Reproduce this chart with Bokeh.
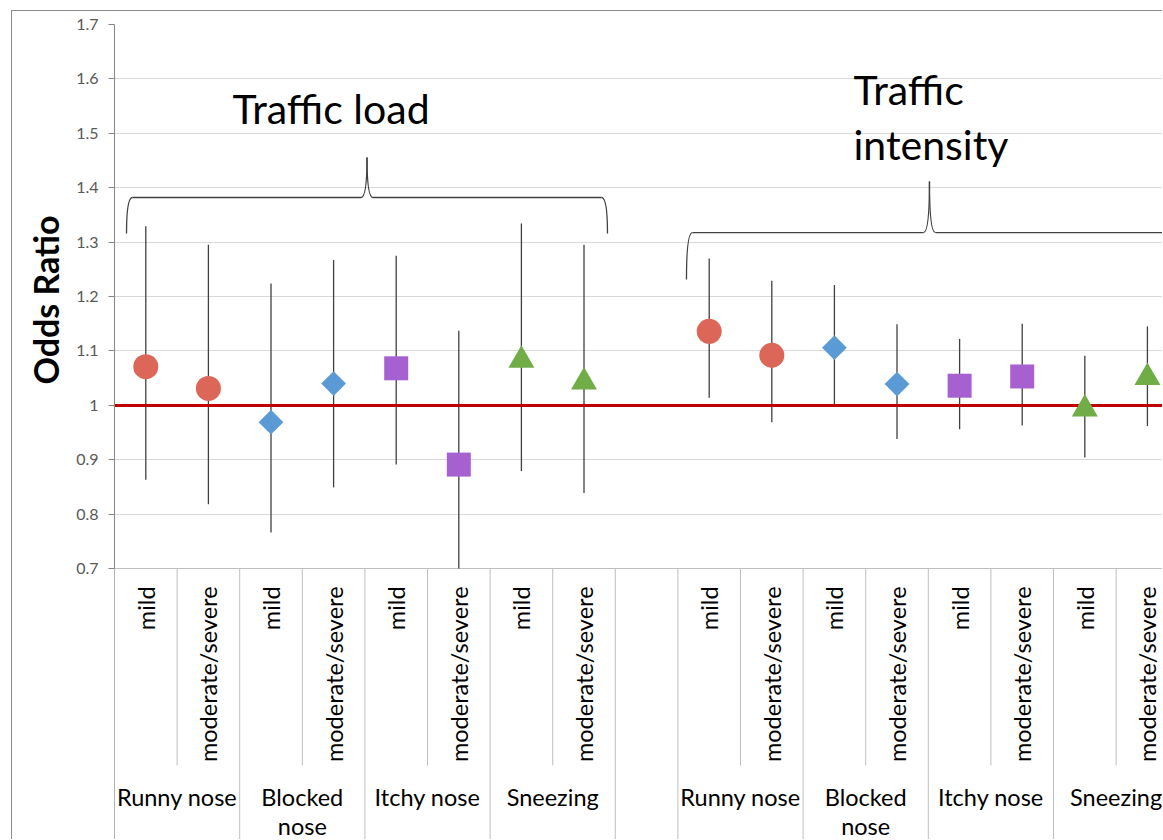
import numpy as np
from bokeh.plotting import figure
from bokeh.models import Range1d, FixedTicker, Title
from bokeh.core.properties import value
from bokeh.embed import file_html
from bokeh.resources import INLINE

# ---------------- data ----------------
exposures = ["Traffic load", "Traffic\nintensity"]
symptoms = ["Runny nose", "Blocked\nnose", "Itchy nose", "Sneezing"]
severities = ["mild", "moderate/severe"]

# traffic load: order = symptom x severity
or_load = [1.071, 1.031, 0.969, 1.040, 1.068, 0.891, 1.083, 1.043]
lo_load = [0.863, 0.818, 0.766, 0.849, 0.891, 0.700, 0.879, 0.839]
hi_load = [1.329, 1.295, 1.224, 1.267, 1.275, 1.137, 1.334, 1.295]
# traffic intensity
or_int = [1.136, 1.092, 1.106, 1.039, 1.036, 1.053, 0.993, 1.051]
lo_int = [1.014, 0.969, 1.000, 0.938, 0.956, 0.963, 0.904, 0.962]
hi_int = [1.270, 1.229, 1.221, 1.149, 1.122, 1.150, 1.091, 1.145]

y_ticks = [0.7, 0.8, 0.9, 1.0, 1.1, 1.2, 1.3, 1.4, 1.5, 1.6, 1.7]
y_tick_labels = ["0.7", "0.8", "0.9", "1", "1.1", "1.2", "1.3", "1.4", "1.5", "1.6", "1.7"]
y_title = "Odds Ratio"
reference_or = 1.0

# ---------------- styles ----------------
sym_colors = ["#DC6657", "#5B9BD5", "#A660D0", "#70AD47"]
sym_markers = ["circle", "square", "square", "triangle"]
sym_sizes = [25, 17.5, 24, 26]
sym_angles = [0, np.pi / 4, 0, 0]
FONT = "Lato"

n_per_group = len(symptoms) * len(severities)
x_start, x_end = 0.0, 16.757
y_min, y_max = 0.2, 1.7

p = figure(width=1151, height=829,
           x_range=Range1d(x_start, x_end), y_range=Range1d(y_min, y_max),
           output_backend="svg", toolbar_location=None, x_axis_location=None,
           min_border_left=102, min_border_top=13, min_border_right=0, min_border_bottom=0,
           margin=(10, 0, 0, 11),
           styles={"border-top": "1px solid #8c8c8c", "border-left": "1px solid #8c8c8c"})
p.outline_line_color = None
p.background_fill_color = "white"
p.border_fill_color = "white"

# y axis
ax = p.yaxis[0]
ax.ticker = FixedTicker(ticks=y_ticks)
ax.bounds = (y_ticks[0], y_ticks[-1])
ax.major_label_overrides = {t: l for t, l in zip(y_ticks, y_tick_labels)}
ax.axis_line_color = "#868686"
ax.major_tick_line_color = "#868686"
ax.major_tick_out = 6
ax.major_tick_in = 0
ax.minor_tick_line_color = None
ax.major_label_standoff = 10
ax.major_label_text_font = FONT
ax.major_label_text_font_size = "16px"
ax.major_label_text_color = "#595959"

# value-axis title, placed along the 0.7-1.7 part of the axis
p.add_layout(Title(text=y_title, align="right", offset=191, vertical_align="bottom",
                   standoff=16, text_font=FONT, text_font_style="bold",
                   text_font_size="34px", text_color="black"), "left")

p.xgrid.visible = False
p.ygrid.ticker = FixedTicker(ticks=y_ticks)
p.ygrid.grid_line_color = "#d9d9d9"
p.ygrid.grid_line_width = 1

# ---------------- positions ----------------
xs, ors, los, his, sym_idx = [], [], [], [], []
group_centers, group_labels = [], []
full_sep, short_sep = [], []
brace_spans = []
for gi, (o_l, l_l, h_l) in enumerate([(or_load, lo_load, hi_load), (or_int, lo_int, hi_int)]):
    base = gi * (n_per_group + 1)
    brace_spans.append((base, base + n_per_group))
    for si in range(len(symptoms)):
        group_centers.append(base + si * 2 + 1)
        group_labels.append(symptoms[si])
        full_sep.append(base + si * 2)
        short_sep.append(base + si * 2 + 1)
        for vi in range(len(severities)):
            k = si * len(severities) + vi
            xs.append(base + k + 0.5)
            ors.append(o_l[k]); los.append(l_l[k]); his.append(h_l[k])
            sym_idx.append(si)
    full_sep.append(base + n_per_group)

sub_labels = [severities[i % len(severities)] for i in range(len(xs))]

# axis line at bottom of value area
p.hspan(y=[y_ticks[0]], line_color="#bfbfbf", line_width=1)

# category separators
p.segment(x0=full_sep, x1=full_sep, y0=[y_min] * len(full_sep), y1=[y_ticks[0]] * len(full_sep),
          line_color="#bfbfbf", line_width=1)
p.segment(x0=short_sep, x1=short_sep, y0=[0.338] * len(short_sep), y1=[y_ticks[0]] * len(short_sep),
          line_color="#bfbfbf", line_width=1)
# continuation of the value axis line below the plot area
p.segment(x0=[x_start], x1=[x_start], y0=[y_min], y1=[y_ticks[0]], line_color="#868686", line_width=1)

# category labels
p.text(x=xs, y=[0.667] * len(xs), text=sub_labels, angle=np.pi / 2,
       text_align="right", text_baseline="middle", text_font=value(FONT),
       text_font_size="23.5px", text_color="black")
p.text(x=group_centers, y=[0.3057] * len(group_centers), text=group_labels,
       text_align="center", text_baseline="top", text_font=value(FONT),
       text_font_size="23.5px", text_color="black", text_line_height=1.02)

# error bars
p.segment(x0=xs, x1=xs, y0=los, y1=his, line_color="#404040", line_width=1.3)

# reference line
p.hspan(y=[reference_or], line_color="#C00000", line_width=3)

# markers
for si in range(len(symptoms)):
    sel = [i for i, s in enumerate(sym_idx) if s == si]
    p.scatter(x=[xs[i] for i in sel], y=[ors[i] for i in sel], marker=sym_markers[si],
              size=sym_sizes[si], angle=sym_angles[si], fill_color=sym_colors[si],
              line_color=None)

# braces
brace_levels = [(1.316, 1.382, 1.4555, 0.192, 0.125), (1.2313, 1.3176, 1.4114, 0.137, 0.10)]
dx = 0.095
for (g0, g1), (y_end, y_h, y_pk, in_l, in_r) in zip(brace_spans, brace_levels):
    xa, xb = g0 + in_l, g1 - in_r
    xm = (xa + xb) / 2
    p.quadratic(x0=[xa, xm - dx, xm, xb - dx], y0=[y_end, y_h, y_pk, y_h],
                x1=[xa + dx, xm, xm + dx, xb], y1=[y_h, y_pk, y_h, y_end],
                cx=[xa, xm, xm, xb], cy=[y_h, y_h, y_h, y_h],
                line_color="#404040", line_width=1.3)
    p.segment(x0=[xa + dx, xm + dx], x1=[xm - dx, xb - dx], y0=[y_h, y_h], y1=[y_h, y_h],
              line_color="#404040", line_width=1.3)

# exposure titles
p.text(x=[1.885, 11.805], y=[1.5915, 1.6254], text=exposures, text_align="left",
       text_baseline="top", text_font=value(FONT), text_font_size="41px",
       text_color="black", text_line_height=1.12)

open("out.html", "w").write(file_html(p, INLINE))
